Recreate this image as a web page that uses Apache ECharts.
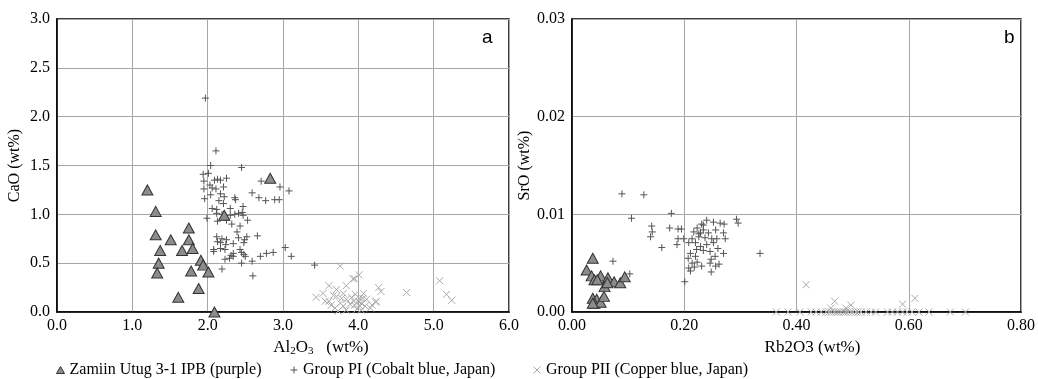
<!DOCTYPE html>
<html>
<head>
<meta charset="utf-8">
<script src="https://cdn.jsdelivr.net/npm/echarts@6/dist/echarts.min.js"></script>
<style>
  html, body { margin: 0; padding: 0; background: #fff; }
  #chart { width: 1038px; height: 379px; }
</style>
</head>
<body>
<div id="chart"></div>
<script>
// ---- data (a): Al2O3 vs CaO ----
const zamiinA = [
  [1.20, 1.25], [1.31, 1.03], [1.31, 0.79], [1.51, 0.74], [1.37, 0.63], [1.35, 0.50],
  [1.33, 0.40], [1.75, 0.86], [1.75, 0.74], [1.66, 0.63], [1.80, 0.65], [1.91, 0.53],
  [1.94, 0.48], [1.78, 0.42], [2.01, 0.41], [1.88, 0.24], [1.61, 0.15], [2.09, 0.00],
  [2.22, 0.99], [2.83, 1.37]
];
const groupPIA = [
  [1.97, 2.19], [2.11, 1.65], [2.04, 1.50], [2.45, 1.48], [1.94, 1.41], [2.01, 1.42],
  [2.09, 1.35], [2.13, 1.36], [2.17, 1.35], [2.25, 1.37], [1.95, 1.34], [2.03, 1.30],
  [1.95, 1.26], [2.06, 1.27], [2.11, 1.26], [2.21, 1.28], [1.96, 1.16], [2.04, 1.20],
  [2.17, 1.21], [2.22, 1.18], [2.36, 1.17], [2.37, 1.15], [2.15, 1.14], [2.21, 1.11],
  [2.12, 1.05], [2.06, 1.06], [2.30, 1.06], [2.47, 1.08], [2.12, 1.01], [2.19, 1.00],
  [2.30, 0.99], [2.36, 1.00], [2.41, 1.01], [2.46, 1.02], [2.47, 0.99], [1.99, 0.96],
  [2.13, 0.93], [2.25, 0.94], [2.32, 0.90], [2.53, 0.94], [2.43, 0.88], [2.39, 0.82],
  [2.12, 0.77], [2.19, 0.75], [2.25, 0.74], [2.41, 0.76], [2.52, 0.77], [2.66, 0.78],
  [2.49, 0.74], [2.13, 0.72], [2.17, 0.71], [2.24, 0.69], [2.34, 0.70], [2.48, 0.71],
  [2.08, 0.64], [2.17, 0.65], [2.08, 0.62], [2.23, 0.64], [2.43, 0.64], [2.34, 0.60],
  [2.45, 0.61], [2.48, 0.59], [2.59, 0.52], [2.31, 0.58], [2.29, 0.55], [2.34, 0.57],
  [2.50, 0.57], [2.70, 0.57], [2.78, 0.60], [2.87, 0.61], [3.03, 0.66], [3.11, 0.57],
  [2.23, 0.54], [2.45, 0.50], [2.19, 0.44], [2.60, 0.37], [3.42, 0.48], [2.71, 1.34],
  [2.96, 1.28], [3.08, 1.24], [2.59, 1.22], [2.68, 1.17], [2.77, 1.14], [2.89, 1.15],
  [2.95, 1.15]
];
const groupPIIA = [
  [3.76, 0.47], [4.01, 0.38], [3.95, 0.34], [3.84, 0.27], [4.27, 0.25], [4.30, 0.21],
  [4.64, 0.20], [5.08, 0.32], [5.17, 0.18], [5.24, 0.12], [4.23, 0.10], [3.44, 0.15],
  [3.53, 0.19], [3.61, 0.27], [3.61, 0.11], [3.64, 0.07], [3.69, 0.04], [3.73, 0.01],
  [3.71, 0.16], [3.80, 0.19], [3.84, 0.13], [3.89, 0.08], [3.91, 0.15], [3.96, 0.18],
  [3.93, 0.34], [3.95, 0.07], [4.00, 0.11], [4.02, 0.14], [4.04, 0.09], [4.07, 0.19],
  [4.09, 0.06], [4.02, 0.06], [3.98, 0.03], [4.11, 0.13], [4.18, 0.07], [4.24, 0.11],
  [3.67, 0.17], [3.56, 0.11], [3.76, 0.09], [3.80, 0.06], [3.84, 0.02], [4.04, 0.02],
  [4.06, 0.14], [4.16, 0.04], [3.71, 0.23], [3.78, 0.14], [3.94, 0.11]
];

// ---- data (b): Rb2O3 vs SrO ----
const zamiinB = [
  [0.037, 0.0055], [0.026, 0.0043], [0.035, 0.0037], [0.040, 0.0033], [0.051, 0.0037],
  [0.045, 0.0033], [0.064, 0.0035], [0.075, 0.0031], [0.086, 0.0030], [0.094, 0.0036],
  [0.058, 0.0026], [0.063, 0.0030], [0.037, 0.0014], [0.044, 0.0013], [0.040, 0.0009],
  [0.051, 0.0010], [0.057, 0.0016], [0.037, 0.0009]
];
const groupPIB = [
  [0.089, 0.0121], [0.128, 0.0120], [0.106, 0.0096], [0.177, 0.0101], [0.073, 0.0052],
  [0.103, 0.0039], [0.142, 0.0088], [0.143, 0.0082], [0.140, 0.0077], [0.160, 0.0066],
  [0.174, 0.0086], [0.189, 0.0085], [0.195, 0.0085], [0.189, 0.0075], [0.187, 0.0069],
  [0.199, 0.0075], [0.201, 0.0031], [0.335, 0.0060], [0.293, 0.0095], [0.296, 0.0091],
  [0.271, 0.0090], [0.264, 0.0091], [0.252, 0.0092], [0.240, 0.0094], [0.231, 0.0090],
  [0.223, 0.0086], [0.217, 0.0082], [0.229, 0.0081], [0.234, 0.0084], [0.243, 0.0081],
  [0.256, 0.0084], [0.270, 0.0081], [0.273, 0.0075], [0.258, 0.0075], [0.249, 0.0075],
  [0.237, 0.0076], [0.226, 0.0077], [0.214, 0.0075], [0.208, 0.0071], [0.220, 0.0071],
  [0.229, 0.0067], [0.240, 0.0069], [0.252, 0.0071], [0.260, 0.0065], [0.270, 0.0060],
  [0.246, 0.0062], [0.234, 0.0063], [0.222, 0.0064], [0.211, 0.0060], [0.220, 0.0057],
  [0.207, 0.0055], [0.214, 0.0050], [0.223, 0.0051], [0.248, 0.0054], [0.255, 0.0057],
  [0.246, 0.0050], [0.262, 0.0049], [0.256, 0.0047], [0.208, 0.0045], [0.211, 0.0042],
  [0.218, 0.0046], [0.231, 0.0047], [0.248, 0.0041], [0.234, 0.0089], [0.226, 0.0080]
];
const groupPIIB = [
  [0.417, 0.0028], [0.468, 0.0011], [0.497, 0.0007], [0.589, 0.0008], [0.611, 0.0014],
  [0.488, 0.0004], [0.461, 0.0004], [0.364, 0], [0.385, 0], [0.406, 0], [0.426, 0],
  [0.435, 0], [0.444, 0], [0.453, 0], [0.458, 0], [0.462, 0], [0.467, 0], [0.471, 0],
  [0.475, 0], [0.479, 0], [0.484, 0], [0.488, 0], [0.492, 0], [0.497, 0], [0.501, 0],
  [0.506, 0], [0.510, 0], [0.515, 0], [0.524, 0], [0.533, 0], [0.541, 0], [0.562, 0],
  [0.571, 0], [0.580, 0], [0.589, 0], [0.597, 0], [0.606, 0], [0.618, 0], [0.636, 0],
  [0.674, 0], [0.701, 0]
];

const seriesNames = [
  'Zamiin Utug 3-1 IPB (purple)',
  'Group PI (Cobalt blue, Japan)',
  'Group PII (Copper blue, Japan)'
];

const serif = '"Liberation Serif", "DejaVu Serif", serif';
const plusPath = 'path://M5,0L5,10M0,5L10,5';
const crossPath = 'path://M0,0L10,10M10,0L0,10';

const chart = echarts.init(document.getElementById('chart'), null, { renderer: 'canvas' });

function xAxisOf(gi, max, interval, digits, name, extra) {
  return {
    gridIndex: gi, type: 'value', min: 0, max: max, interval: interval,
    axisLine: { show: true, lineStyle: { color: '#000', width: 1.5 } },
    axisTick: { show: false },
    splitLine: { show: true, lineStyle: { color: '#a6a6a6', width: 1 } },
    axisLabel: { color: '#000', fontFamily: serif, fontSize: 16, margin: 6,
                 formatter: v => v.toFixed(digits) },
    name: name, nameLocation: 'middle', nameGap: 27,
    nameTextStyle: Object.assign({ color: '#000', fontFamily: serif, fontSize: 17 }, extra || {})
  };
}
function yAxisOf(gi, max, interval, digits, name) {
  return {
    gridIndex: gi, type: 'value', min: 0, max: max, interval: interval,
    axisLine: { show: true, lineStyle: { color: '#000', width: 1.5 } },
    axisTick: { show: false },
    splitLine: { show: true, lineStyle: { color: '#a6a6a6', width: 1 } },
    axisLabel: { color: '#000', fontFamily: serif, fontSize: 16, margin: 7,
                 formatter: v => v.toFixed(digits) },
    name: name, nameLocation: 'middle', nameGap: 34,
    nameTextStyle: { color: '#000', fontFamily: serif, fontSize: 16 }
  };
}

function triSeries(gi, data) {
  return {
    name: seriesNames[0], type: 'scatter', xAxisIndex: gi, yAxisIndex: gi,
    symbol: 'triangle', symbolSize: [11, 10], data: data, z: 3,
    itemStyle: { color: '#8c8c8c', borderColor: '#333', borderWidth: 1, opacity: 1 }
  };
}
function plusSeries(gi, data) {
  return {
    name: seriesNames[1], type: 'scatter', xAxisIndex: gi, yAxisIndex: gi,
    symbol: plusPath, symbolSize: 7, data: data, z: 2,
    itemStyle: { color: 'transparent', borderColor: '#555', borderWidth: 1, opacity: 1 }
  };
}
function crossSeries(gi, data) {
  return {
    name: seriesNames[2], type: 'scatter', xAxisIndex: gi, yAxisIndex: gi,
    symbol: crossPath, symbolSize: 7, data: data, z: 2,
    itemStyle: { color: 'transparent', borderColor: '#aaa', borderWidth: 1, opacity: 1 }
  };
}

// one legend block per entry, so each can sit where the reference puts it
const legendIcons = [
  { icon: 'triangle', itemStyle: { color: '#8c8c8c', borderColor: '#333', borderWidth: 1 } },
  { icon: plusPath, itemStyle: { color: 'transparent', borderColor: '#555', borderWidth: 1 } },
  { icon: crossPath, itemStyle: { color: 'transparent', borderColor: '#aaa', borderWidth: 1 } }
];
const legendLeft = [54, 288, 531];
const legends = seriesNames.map((n, i) => ({
  left: legendLeft[i], top: 360, padding: 2, itemWidth: 8, itemHeight: 7, selectedMode: false,
  textStyle: { color: '#000', fontFamily: serif, fontSize: 16 },
  data: [Object.assign({ name: n }, legendIcons[i])]
}));

const option = {
  animation: false,
  backgroundColor: '#fff',
  grid: [
    { left: 57, top: 19, width: 452, height: 293, show: true, borderColor: '#000', borderWidth: 1.5, backgroundColor: 'transparent' },
    { left: 572, top: 19, width: 452, height: 293, show: true, borderColor: '#000', borderWidth: 1.5, backgroundColor: 'transparent' }
  ],
  xAxis: [
    xAxisOf(0, 6, 1, 1, '{t|Al}{s|2}{t|O}{s|3}{t|   (wt%)}', {
      padding: [0, 0, 0, 76],
      rich: {
        t: { fontFamily: serif, fontSize: 17, color: '#000' },
        s: { fontFamily: serif, fontSize: 11, color: '#000', padding: [7, 0, 0, 0] }
      }
    }),
    xAxisOf(1, 0.8, 0.2, 2, 'Rb2O3 (wt%)', { padding: [0, 0, 0, 32] })
  ],
  yAxis: [
    yAxisOf(0, 3, 0.5, 1, 'CaO (wt%)'),
    yAxisOf(1, 0.03, 0.01, 2, 'SrO (wt%)')
  ],
  legend: legends,
  graphic: [
    { type: 'text', left: 482, top: 28, style: { text: 'a', fontFamily: '"Liberation Sans", Arial, sans-serif', fontSize: 19, fill: '#000' } },
    { type: 'text', left: 1004, top: 28, style: { text: 'b', fontFamily: '"Liberation Sans", Arial, sans-serif', fontSize: 19, fill: '#000' } }
  ],
  series: [
    plusSeries(0, groupPIA), crossSeries(0, groupPIIA), triSeries(0, zamiinA),
    plusSeries(1, groupPIB), crossSeries(1, groupPIIB), triSeries(1, zamiinB)
  ]
};

chart.setOption(option);
</script>
</body>
</html>
